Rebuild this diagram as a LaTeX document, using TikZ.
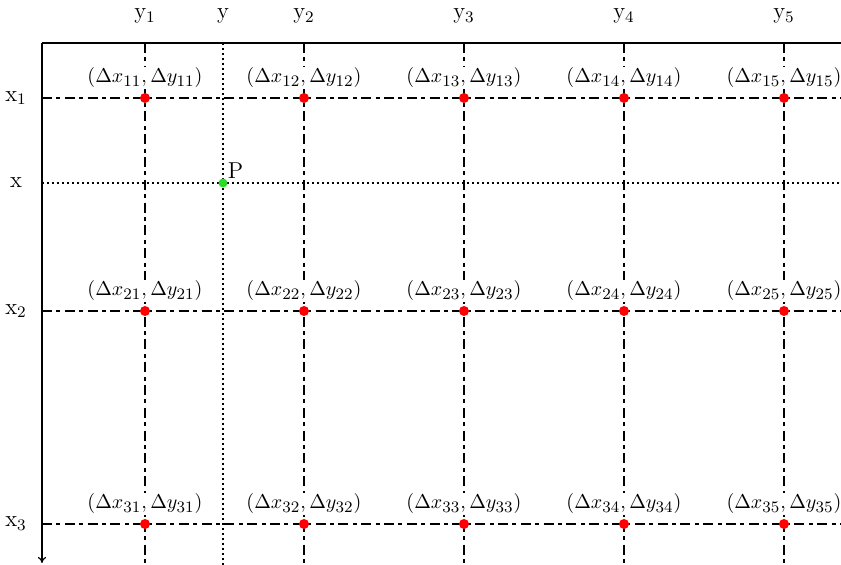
\documentclass[tikz,border=0pt]{standalone}
\usetikzlibrary{arrows.meta}
\DeclareMathSizes{10}{10}{8}{6}
\begin{document}
\begin{tikzpicture}[x=0.5pt,y=-0.5pt,
  font=\fontsize{10}{12}\selectfont,
  axisline/.style={line width=0.6pt},
  gridline/.style={line width=0.6pt,dash pattern=on 5pt off 2.2pt on 2pt off 2.2pt},
  dotline/.style={line width=0.8pt,dash pattern=on 0.8pt off 1.7pt},
  pt/.style={circle,fill=red,inner sep=0pt,minimum size=5pt},
  ppt/.style={circle,fill={rgb,255:red,40;green,220;blue,40},inner sep=0pt,minimum size=4.5pt},
  lab/.style={inner sep=1pt,font=\fontsize{11.5}{13}\selectfont},
  dlab/.style={inner sep=0.5pt,fill=white}]
\useasboundingbox (0,0) rectangle (841,565);
% axes
\coordinate (o) at (42,43);
\coordinate (te) at (841,43);
\coordinate (le) at (42,563);
\draw[axisline] (o) -- (te);
\draw[axisline,-{To[length=3pt,width=4pt]}] (o) -- (le);
% column and row positions
\foreach \j/\xx in {1/145,2/304,3/464,4/624,5/784}{
  \coordinate (ct\j) at (\xx,43);
  \coordinate (cb\j) at (\xx,565);
  \draw[gridline] (ct\j) -- (cb\j);
  \node[lab] (ylab\j) at (\xx,16) {y\textsubscript{\j}};
}
\foreach \i/\yy in {1/98,2/311,3/524}{
  \coordinate (rl\i) at (42,\yy);
  \coordinate (rr\i) at (841,\yy);
  \draw[gridline] (rl\i) -- (rr\i);
  \node[lab] (xlab\i) at (16,\yy) {x\textsubscript{\i}};
}
% dotted lines through P
\coordinate (dt) at (223,43);
\coordinate (db) at (223,565);
\coordinate (dl) at (42,183);
\coordinate (dr) at (841,183);
\draw[dotline] (dt) -- (db);
\draw[dotline] (dl) -- (dr);
\node[lab] (ylab) at (223,16) {y};
\node[lab] (xlab) at (16,183) {x};
% points and labels
\foreach \i/\yy/\ly in {1/98/78,2/311/291,3/524/504}{
  \foreach \j/\xx in {1/145,2/304,3/464,4/624,5/784}{
    \node[dlab] (l\i\j) at (\xx,\ly) {$(\Delta x_{\i\j},\Delta y_{\i\j})$};
    \node[pt] (p\i\j) at (\xx,\yy) {};
  }
}
\node[ppt] (P) at (223,183) {};
\node[lab,anchor=south west,inner sep=0.5pt] (Plab) at (P.north east) {P};
\end{tikzpicture}
\end{document}
